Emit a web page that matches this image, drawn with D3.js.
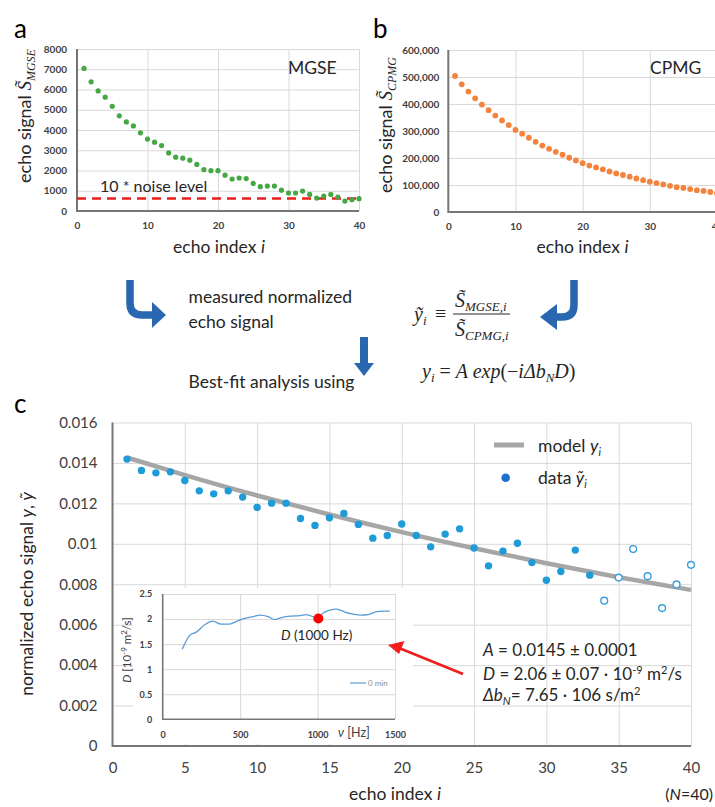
<!DOCTYPE html>
<html>
<head>
<meta charset="utf-8">
<script src="https://cdn.jsdelivr.net/npm/d3@7"></script>
<style>
  body { margin: 0; background: #fff; }
  svg { display: block; font-family: Lato, "Open Sans", sans-serif; }
</style>
</head>
<body>
<script>
// ---- data ----
const echoIndex = d3.range(1, 41);

// panel a: MGSE echo signal
const mgseSignal = [7040, 6380, 5930, 5620, 5170, 4700, 4400, 4200, 3860, 3550,
  3400, 3230, 2870, 2660, 2610, 2510, 2300, 2040, 1990, 1990,
  1770, 1580, 1630, 1600, 1360, 1200, 1230, 1230, 1030, 890,
  890, 985, 820, 640, 740, 820, 690, 490, 560, 610];
const noiseLevel10 = 620;

// panel b: CPMG echo signal
const cpmgSignal = [504000, 473000, 446000, 421000, 398000, 377000, 357000, 339000, 322000, 304000,
  290000, 275000, 260000, 246000, 234000, 223000, 212000, 201000, 191000, 181000,
  172000, 165000, 158000, 150000, 143000, 137000, 131000, 124000, 118000, 112000,
  107000, 102000, 97000, 92000, 89000, 85000, 81000, 78000, 74000, 70000];

// panel c: normalized echo signal (first 33 used in the fit)
const yTilde = [0.01419, 0.01363, 0.01351, 0.01356, 0.01313, 0.01262, 0.01247, 0.01262, 0.01231, 0.01180,
  0.01201, 0.01201, 0.01125, 0.01091, 0.01129, 0.01150, 0.01096, 0.01028, 0.01041, 0.01098,
  0.01041, 0.00985, 0.01048, 0.01074, 0.00979, 0.00891, 0.00964, 0.01003, 0.00907, 0.00820,
  0.00863, 0.00969, 0.00845, 0.00719, 0.00833, 0.00974, 0.00840, 0.00682, 0.00799, 0.00896];
const fitCount = 33;
const modelIndex = [1, 5, 10, 15, 20, 25, 30, 35, 40];
const modelY = [0.01427, 0.01340, 0.01239, 0.01145, 0.01058, 0.00978, 0.00904, 0.00835, 0.00772];

// inset: D vs frequency
const freqHz = [126, 176, 219, 273, 323, 376, 430, 481, 535, 585, 632, 681, 724, 778, 832, 886, 929, 983,
  1005, 1036, 1079, 1123, 1176, 1230, 1284, 1327, 1381, 1423, 1466];
const diffD = [1.40, 1.68, 1.745, 1.89, 1.96, 1.90, 1.90, 1.96, 2.02, 2.05, 2.08, 2.05, 1.99, 2.04, 2.06, 2.07, 2.09, 2.03,
  2.01, 2.12, 2.18, 2.20, 2.14, 2.10, 2.08, 2.09, 2.15, 2.16, 2.16];
const highlight = { f: 1005, D: 2.01 };

// ticks
const aTicksX = [0, 10, 20, 30, 40];
const aTicksY = [0, 1000, 2000, 3000, 4000, 5000, 6000, 7000, 8000];
const bTicksX = [0, 10, 20, 30, 40];
const bTicksY = [0, 100000, 200000, 300000, 400000, 500000, 600000];
const cTicksX = [0, 5, 10, 15, 20, 25, 30, 35, 40];
const cTicksY = [0, 0.002, 0.004, 0.006, 0.008, 0.01, 0.012, 0.014, 0.016];
const iTicksX = [0, 500, 1000, 1500];
const iTicksY = [0, 0.5, 1, 1.5, 2, 2.5];

const W = 715, H = 807;
const svg = d3.select("body").append("svg").attr("width", W).attr("height", H);
svg.append("rect").attr("width", W).attr("height", H).attr("fill", "#fff");

const TXT = "#262626", TICK = "#404040", GRID = "#d9d9d9", AXIS = "#767676";
const SERIF = "'Liberation Serif', 'DejaVu Serif', serif";

// grid, tick labels and axis lines for one chart
function frame(x, y, xt, yt, o) {
  const [x0, x1] = x.range(), [y0, y1] = y.range();
  const g = svg.append("g");
  g.append("g").attr("transform", `translate(0,${y0})`)
    .call(d3.axisBottom(x).tickValues(xt.filter(v => v !== 0)).tickSize(-(y0 - y1)).tickFormat(""))
    .call(s => s.select(".domain").remove())
    .call(s => s.selectAll("line").attr("stroke", GRID).attr("stroke-width", o.gw || 1));
  g.append("g").attr("transform", `translate(${x0},0)`)
    .call(d3.axisLeft(y).tickValues(yt.filter(v => v !== 0)).tickSize(-(x1 - x0)).tickFormat(""))
    .call(s => s.select(".domain").remove())
    .call(s => s.selectAll("line").attr("stroke", GRID).attr("stroke-width", o.gw || 1));
  const style = s => s.attr("font-family", null).attr("font-size", o.fs).attr("font-weight", o.fw || null)
    .call(t => t.select(".domain").remove())
    .call(t => t.selectAll("text").attr("fill", TICK));
  g.append("g").attr("transform", `translate(0,${y0})`)
    .call(d3.axisBottom(x).tickValues(xt).tickSize(0).tickPadding(o.xPad).tickFormat(o.xFmt || (d => d)))
    .call(style);
  g.append("g").attr("transform", `translate(${x0},0)`)
    .call(d3.axisLeft(y).tickValues(yt).tickSize(0).tickPadding(o.yPad).tickFormat(o.yFmt || (d => d)))
    .call(style);
  g.append("path").attr("d", `M${x0},${y1}V${y0}H${x1}`)
    .attr("fill", "none").attr("stroke", AXIS).attr("stroke-width", o.aw || 2);
  return g;
}

// text with italic / sub / superscript parts
function rich(x, y, parts, o = {}) {
  const t = svg.append("text").attr("x", x).attr("y", y)
    .attr("font-size", o.size || 17.5).attr("fill", o.fill || TXT)
    .attr("text-anchor", o.anchor || "start");
  if (o.ff) t.attr("font-family", o.ff);
  if (o.rotate) t.attr("transform", `rotate(-90,${x},${y})`);
  parts.forEach(p => {
    const s = t.append("tspan").text(p.t);
    if (p.it) s.attr("font-style", "italic");
    if (p.ff) s.attr("font-family", p.ff);
    if (p.fs) s.attr("font-size", p.fs);
    if (p.dy) s.attr("dy", p.dy);
  });
  return t;
}

// ---------- panel a ----------
const ax = d3.scaleLinear().domain([0, 40]).range([77, 359]);
const ay = d3.scaleLinear().domain([0, 8000]).range([211, 49]);
frame(ax, ay, aTicksX, aTicksY, { fs: 10, fw: 700, xPad: 11, yPad: 10 });
svg.append("line").attr("x1", ax(0)).attr("x2", 361)
  .attr("y1", ay(noiseLevel10)).attr("y2", ay(noiseLevel10))
  .attr("stroke", "#ee1d1d").attr("stroke-width", 2.5).attr("stroke-dasharray", "9,6");
svg.append("g").selectAll("circle").data(mgseSignal).join("circle")
  .attr("cx", (d, i) => ax(echoIndex[i])).attr("cy", d => ay(d)).attr("r", 2.6).attr("fill", "#45a845");
rich(14, 38, [{ t: "a" }], { size: 26, fill: "#000" });
rich(288, 74, [{ t: "MGSE" }], { size: 17.5 });
rich(100, 192, [{ t: "10 * noise level" }], { size: 16 });
rich(219, 253, [{ t: "echo index " }, { t: "i", it: true }], { anchor: "middle" });
rich(31, 116, [{ t: "echo signal " }, { t: "S\u0303", it: true, ff: SERIF, fs: 19 },
  { t: "MGSE", it: true, ff: SERIF, fs: 12, dy: 4 }], { anchor: "middle", rotate: true, size: 18 });

// ---------- panel b ----------
const bx = d3.scaleLinear().domain([0, 40]).range([448.3, 717]);
const by = d3.scaleLinear().domain([0, 600000]).range([212, 50]);
frame(bx, by, bTicksX, bTicksY, { fs: 10, fw: 700, xPad: 11, yPad: 9, yFmt: d3.format(",") });
svg.append("g").selectAll("circle").data(cpmgSignal).join("circle")
  .attr("cx", (d, i) => bx(echoIndex[i])).attr("cy", d => by(d)).attr("r", 2.9).attr("fill", "#f4833d");
rich(373, 38, [{ t: "b" }], { size: 26, fill: "#000" });
rich(650, 74, [{ t: "CPMG" }], { size: 17.5 });
rich(582.5, 253, [{ t: "echo index " }, { t: "i", it: true }], { anchor: "middle" });
rich(392, 125, [{ t: "echo signal " }, { t: "S\u0303", it: true, ff: SERIF, fs: 19 },
  { t: "CPMG", it: true, ff: SERIF, fs: 12, dy: 4 }], { anchor: "middle", rotate: true, size: 18 });

// ---------- middle: arrows and formulas ----------
const BLUE = "#2a67b1";
svg.append("path").attr("d", "M130,280V303Q130,315 142,315H153")
  .attr("fill", "none").attr("stroke", BLUE).attr("stroke-width", 7.5);
svg.append("path").attr("d", "M152,302L166,315L152,328Z").attr("fill", BLUE);
svg.append("path").attr("d", "M574,280V305Q574,317 562,317H556")
  .attr("fill", "none").attr("stroke", BLUE).attr("stroke-width", 7.5);
svg.append("path").attr("d", "M557,304L540,317L557,330Z").attr("fill", BLUE);
svg.append("path").attr("d", "M364,337V364").attr("stroke", BLUE).attr("stroke-width", 8);
svg.append("path").attr("d", "M354,363L374,363L364,376Z").attr("fill", BLUE);

rich(188.5, 302.5, [{ t: "measured normalized" }]);
rich(188.5, 327.5, [{ t: "echo signal" }]);
rich(188.5, 388, [{ t: "Best-fit analysis using" }]);

rich(414, 321, [{ t: "\u1EF9", it: true }, { t: "i", it: true, fs: 13, dy: 4 }], { ff: SERIF, size: 20 });
rich(435, 320, [{ t: "\u2261" }], { ff: SERIF, size: 20 });
rich(455, 307, [{ t: "S\u0303", it: true }, { t: "MGSE,i", it: true, fs: 13, dy: 4 }], { ff: SERIF, size: 20 });
svg.append("line").attr("x1", 453).attr("x2", 510).attr("y1", 314).attr("y2", 314)
  .attr("stroke", TXT).attr("stroke-width", 1);
rich(455, 336, [{ t: "S\u0303", it: true }, { t: "CPMG,i", it: true, fs: 13, dy: 4 }], { ff: SERIF, size: 20 });

rich(422, 378, [{ t: "y", it: true }, { t: "i", it: true, fs: 13, dy: 4 }, { t: " = ", dy: -4 }, { t: "A exp", it: true },
  { t: "(\u2212" }, { t: "i\u0394b", it: true }, { t: "N", it: true, fs: 13, dy: 4 }, { t: "D", it: true, dy: -4 }, { t: ")" }],
  { ff: SERIF, size: 20 });

// ---------- panel c ----------
const cx = d3.scaleLinear().domain([0, 40]).range([112.5, 691]);
const cy = d3.scaleLinear().domain([0, 0.016]).range([746, 422.5]);
frame(cx, cy, cTicksX, cTicksY, { fs: 15, xPad: 16, yPad: 15, aw: 2 });

// inset background covers the grid of the main chart
svg.append("rect").attr("x", 133).attr("y", 588).attr("width", 280).attr("height", 156).attr("fill", "#fff");

const ix = d3.scaleLinear().domain([0, 1500]).range([162.7, 395]);
const iy = d3.scaleLinear().domain([0, 2.5]).range([719.3, 594]);
frame(ix, iy, iTicksX, iTicksY, { fs: 9, fw: 700, xPad: 12, yPad: 10.5, aw: 1.6 });
svg.append("path").datum(freqHz)
  .attr("d", d3.line().x(d => ix(d)).y((d, i) => iy(diffD[i])).curve(d3.curveMonotoneX))
  .attr("fill", "none").attr("stroke", "#5b9bd5").attr("stroke-width", 1.3);
svg.append("circle").attr("cx", ix(highlight.f)).attr("cy", iy(highlight.D)).attr("r", 5).attr("fill", "#ff0000");
rich(281, 640, [{ t: "D", it: true }, { t: " (1000 Hz)" }], { size: 13.5 });
rich(338, 737, [{ t: "\u03BD", it: true }, { t: " [Hz]" }], { size: 12.5, fill: TICK });
rich(131, 650, [{ t: "D", it: true }, { t: " [10" }, { t: "-9", fs: 8, dy: -4 }, { t: " m", dy: 4 },
  { t: "2", fs: 8, dy: -4 }, { t: "/s]", dy: 4 }], { anchor: "middle", rotate: true, size: 11.5, fill: TICK });
svg.append("line").attr("x1", 350).attr("x2", 366).attr("y1", 683).attr("y2", 683)
  .attr("stroke", "#5b9bd5").attr("stroke-width", 1.2);
rich(368, 686, [{ t: "0 min" }], { size: 8, fill: "#8c8c8c" });

// model line and data
svg.append("path").datum(modelIndex)
  .attr("d", d3.line().x(d => cx(d)).y((d, i) => cy(modelY[i])).curve(d3.curveMonotoneX))
  .attr("fill", "none").attr("stroke", "#a6a6a6").attr("stroke-width", 4.5);
svg.append("g").selectAll("circle").data(yTilde).join("circle")
  .attr("cx", (d, i) => cx(echoIndex[i])).attr("cy", d => cy(d)).attr("r", (d, i) => i < fitCount ? 3.7 : 3.4)
  .attr("fill", (d, i) => i < fitCount ? "#1f9bd7" : "#fff")
  .attr("stroke", (d, i) => i < fitCount ? "none" : "#3aa0dc").attr("stroke-width", 1.4);

// legend
svg.append("line").attr("x1", 494).attr("x2", 524).attr("y1", 445).attr("y2", 445)
  .attr("stroke", "#a6a6a6").attr("stroke-width", 5);
rich(538, 452, [{ t: "model " }, { t: "y", it: true }, { t: "i", it: true, fs: 11, dy: 4 }]);
svg.append("circle").attr("cx", 505.7).attr("cy", 477.7).attr("r", 4.3).attr("fill", "#1b6fcf");
rich(538, 484, [{ t: "data " }, { t: "\u1EF9", it: true }, { t: "i", it: true, fs: 11, dy: 4 }]);

// fit annotation and arrow
rich(483, 656, [{ t: "A", it: true }, { t: " = 0.0145 \u00B1 0.0001" }], { size: 17 });
rich(483, 679.5, [{ t: "D", it: true }, { t: " = 2.06 \u00B1 0.07 \u00B7 10" }, { t: "-9", fs: 11, dy: -6 },
  { t: " m", dy: 6 }, { t: "2", fs: 11, dy: -6 }, { t: "/s", dy: 6 }], { size: 17 });
rich(483, 701, [{ t: "\u0394b", it: true }, { t: "N", it: true, fs: 11, dy: 4 }, { t: "= 7.65 \u00B7 106 s/m", dy: -4 },
  { t: "2", fs: 11, dy: -6 }], { size: 17 });
svg.append("line").attr("x1", 463).attr("y1", 674).attr("x2", 399).attr("y2", 648)
  .attr("stroke", "#f01e1e").attr("stroke-width", 2.6);
svg.append("path").attr("d", "M388,645L404.5,641L399,654Z").attr("fill", "#f01e1e");

// panel c labels
rich(14, 413, [{ t: "c" }], { size: 26, fill: "#000" });
rich(395, 800, [{ t: "echo index " }, { t: "i", it: true }], { anchor: "middle" });
rich(713, 800, [{ t: "(" }, { t: "N", it: true }, { t: "=40)" }], { anchor: "end", size: 16 });
rich(33, 594, [{ t: "normalized echo signal " }, { t: "y", it: true }, { t: ", " }, { t: "\u1EF9", it: true }],
  { anchor: "middle", rotate: true });
</script>
</body>
</html>
